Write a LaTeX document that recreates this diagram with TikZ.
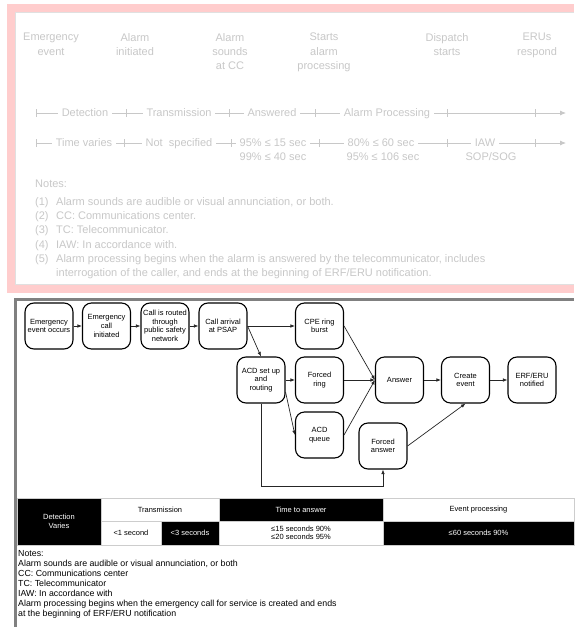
\documentclass[tikz,border=0pt]{standalone}
\usepackage{fontspec}
\setmainfont{Liberation Sans}
\usetikzlibrary{arrows.meta}

\definecolor{bandpink}{RGB}{255,205,205}
\definecolor{faded}{RGB}{200,200,200}
\definecolor{rimgray}{RGB}{128,128,128}
\definecolor{cellrule}{RGB}{205,205,205}

\begin{document}
\begin{tikzpicture}[x=1pt,y=-1pt,
  % faded timeline (upper panel)
  fadetxt/.style={text=faded, font=\fontsize{11}{14.3}\selectfont, inner sep=0pt},
  fadehead/.style={fadetxt, align=center, anchor=north},
  fadecut/.style={fadetxt, fill=white, inner xsep=4pt, text height=7.8pt, text depth=0pt},
  fadeline/.style={draw=faded, line width=0.8pt},
  % flow chart (lower panel)
  stage/.style={draw, line width=1.1pt, rounded corners=9pt, minimum width=48pt,
    minimum height=46pt, inner sep=1pt, align=center, font=\fontsize{7.5}{8.6}\selectfont},
  flow/.style={-{Latex[length=4.5pt,width=3.6pt]}, line width=0.7pt, draw=black!85},
  cell/.style={draw=cellrule, line width=0.6pt, inner sep=0pt, outer sep=0pt, align=center,
    font=\fontsize{7.5}{8.6}\selectfont},
  darkcell/.style={cell, fill=black, text=white},
  lightcell/.style={cell, fill=white},
  note/.style={anchor=north west, align=left, inner sep=0pt, font=\fontsize{8.8}{10}\selectfont}]
\useasboundingbox (0,0) rectangle (574,627);

% Upper panel: pink band, open on the right.
\fill[bandpink] (7,4) rectangle (574,293);
\fill[white] (15,12) rectangle (574,285);
\draw[black!12, line width=1pt] (574,12.5) -- (15.5,12.5) -- (15.5,284.5) -- (574,284.5);

% Milestones.
\node[fadehead] (hevent) at (51,33) {Emergency\\event};
\node[fadehead] (hinit) at (135,33) {Alarm\\initiated};
\node[fadehead] (hsound) at (230,33) {Alarm\\sounds\\at CC};
\node[fadehead] (hstart) at (324,33) {Starts\\alarm\\processing};
\node[fadehead] (hdisp) at (447,33) {Dispatch\\starts};
\node[fadehead] (heru) at (537,33) {ERUs\\respond};

% Phase line.
\coordinate (pa) at (36,113);
\coordinate (pb) at (566,113);
\draw[fadeline, -{Latex[length=6pt,width=5pt]}] (pa) -- (pb);
\foreach \x in {36,126,229,315,447,535}
  \draw[fadeline] (\x,109) -- (\x,117);
\node[fadecut] (pdet) at (85,113) {Detection};
\node[fadecut] (ptra) at (179,113) {Transmission};
\node[fadecut] (pans) at (272,113) {Answered};
\node[fadecut] (ppro) at (387,113) {Alarm Processing};

% Time line.
\coordinate (ta) at (36,143);
\coordinate (tb) at (566,143);
\draw[fadeline, -{Latex[length=6pt,width=5pt]}] (ta) -- (tb);
\foreach \x in {36,124,231,319,447,535}
  \draw[fadeline] (\x,139) -- (\x,147);
\node[fadecut] (tvar) at (84,143) {Time varies};
\node[fadecut] (tnot) at (179,143) {Not\ \ specified};
\node[fadecut] (tfif) at (273,143) {95\% ≤ 15 sec};
\node[fadecut] (tsix) at (381,143) {80\% ≤ 60 sec};
\node[fadecut] (tiaw) at (485,143) {IAW};
\node[fadetxt, text height=7.8pt, text depth=0pt] (tfor) at (273,157) {99\% ≤ 40 sec};
\node[fadetxt, text height=7.8pt, text depth=0pt] (tone) at (383,157) {95\% ≤ 106 sec};
\node[fadetxt, text height=7.8pt, text depth=0pt] (tsop) at (491,157) {SOP/SOG};

% Notes of the upper panel.
\node[fadetxt, anchor=north west] (tnotes) at (35,180) {Notes:};
\node[fadetxt, anchor=north west, align=left] (tlist) at (35,197)
  {\makebox[21pt][l]{(1)}Alarm sounds are audible or visual annunciation, or both.\\
   \makebox[21pt][l]{(2)}CC: Communications center.\\
   \makebox[21pt][l]{(3)}TC: Telecommunicator.\\
   \makebox[21pt][l]{(4)}IAW: In accordance with.\\
   \makebox[21pt][l]{(5)}Alarm processing begins when the alarm is answered by the telecommunicator, includes\\
   \hspace*{21pt}interrogation of the caller, and ends at the beginning of ERF/ERU notification.};

% Lower panel: gray rim on top and left.
\fill[rimgray] (14,298) rectangle (574,301);
\fill[rimgray] (14,298) rectangle (17,627);

% Call flow.
\node[stage] (event) at (49,326) {Emergency\\event occurs};
\node[stage] (initiated) at (106.5,326) {Emergency\\call\\initiated};
\node[stage] (routed) at (165,326) {Call is routed\\through\\public safety\\network};
\node[stage] (arrival) at (223,326) {Call arrival\\at PSAP};
\node[stage] (cpe) at (319.5,326) {CPE ring\\burst};
\node[stage] (acd) at (261,380) {ACD set up\\and\\routing};
\node[stage] (fring) at (319.5,380) {Forced\\ring};
\node[stage] (queue) at (319.5,435) {ACD\\queue};
\node[stage] (answer) at (399.5,380) {Answer};
\node[stage] (create) at (465.5,380) {Create\\event};
\node[stage] (notified) at (532,380) {ERF/ERU\\notified};
\node[stage] (fanswer) at (383,446) {Forced\\answer};
\coordinate (loopcorner) at (383,486);

\draw[flow] (event) -- (initiated);
\draw[flow] (initiated) -- (routed);
\draw[flow] (routed) -- (arrival);
\draw[flow] (arrival) -- (cpe);
\draw[flow] (arrival.east) -- (acd.north);
\draw[flow] (acd) -- (fring);
\draw[flow] ([yshift=-12pt]acd.east) -- (queue.west);
\draw[flow] (cpe.east) -- (answer.west);
\draw[flow] (fring) -- (answer);
\draw[flow] (queue.east) -- (answer.west);
\draw[flow] (answer) -- (create);
\draw[flow] (create) -- (notified);
\draw[flow] (fanswer.east) -- (create.south);
\draw[flow] (acd.south) |- (loopcorner) -- (fanswer.south);

% Timing table.
\node[darkcell, minimum width=84pt, minimum height=47pt] (cdet) at (59,521.5) {Detection\\Varies};
\node[lightcell, minimum width=118pt, minimum height=23pt] (ctra) at (160,509.5) {Transmission};
\node[darkcell, minimum width=164pt, minimum height=23pt] (ctta) at (301,509.5) {Time to answer};
\node[lightcell, minimum width=191pt, minimum height=23pt] (cevp) at (478.5,509.5) {Event processing};
\node[lightcell, minimum width=60pt, minimum height=24pt] (cone) at (131,533) {<1 second};
\node[darkcell, minimum width=58pt, minimum height=24pt] (cthr) at (190,533) {<3 seconds};
\node[lightcell, minimum width=164pt, minimum height=24pt] (cfif) at (301,533) {≤15 seconds 90\%\\≤20 seconds 95\%};
\node[darkcell, minimum width=191pt, minimum height=24pt] (csix) at (478.5,533) {≤60 seconds 90\%};

% Notes of the lower panel.
\node[note] (notes) at (18,550)
  {Notes:\\
   Alarm sounds are audible or visual annunciation, or both\\
   CC: Communications center\\
   TC: Telecommunicator\\
   IAW: In accordance with\\
   Alarm processing begins when the emergency call for service is created and ends\\
   at the beginning of ERF/ERU notification};

\end{tikzpicture}
\end{document}
